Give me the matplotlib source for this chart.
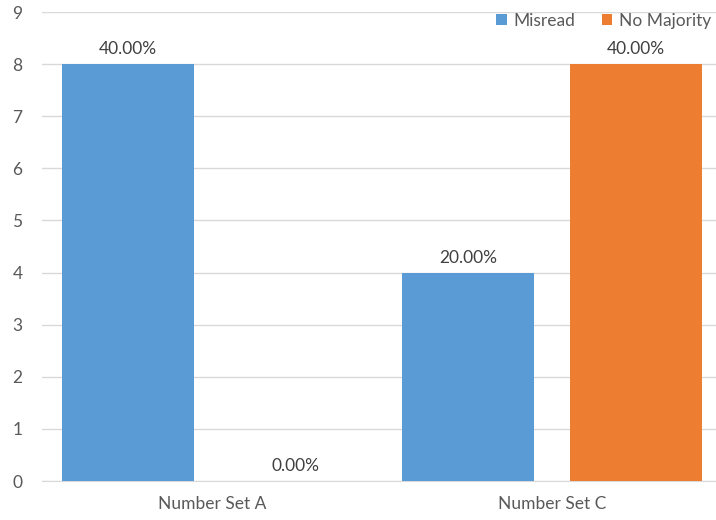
import matplotlib
matplotlib.use("Agg")
import matplotlib.pyplot as plt
import numpy as np

categories = ["Number Set A", "Number Set C"]
series_names = ["Misread", "No Majority"]
misread = [8, 4]
no_majority = [0, 8]
misread_labels = ["40.00%", "20.00%"]
no_majority_labels = ["0.00%", "40.00%"]
y_ticks = list(range(0, 10))

colors = ["#5B9BD5", "#ED7D31"]
text_color = "#595959"
grid_color = "#D9D9D9"

plt.rcParams["font.family"] = ["Lato", "DejaVu Sans"]

fig = plt.figure(figsize=(7.16, 5.2), dpi=100)
ax = fig.add_axes([42 / 716, 39 / 520, 680 / 716, 469 / 520])

x = np.arange(len(categories))
width = 0.39
offset = 0.247

series = [(misread, misread_labels), (no_majority, no_majority_labels)]
for i, (vals, labs) in enumerate(series):
    pos = x + (-offset if i == 0 else offset)
    bars = ax.bar(pos, vals, width=width, color=colors[i], label=series_names[i], zorder=3)
    for b, lab in zip(bars, labs):
        ax.annotate(lab, (b.get_x() + b.get_width() / 2, b.get_height()),
                    xytext=(0, 5), textcoords="offset points",
                    ha="center", va="bottom", fontsize=12.5, color="#404040")

ax.set_xlim(-0.5, 1.5)
ax.set_ylim(0, 9)
ax.set_yticks(y_ticks)
ax.set_xticks(x)
ax.set_xticklabels(categories)
ax.yaxis.grid(True, color=grid_color, linewidth=1, zorder=0)
ax.set_axisbelow(True)
for s in ["top", "right", "left"]:
    ax.spines[s].set_visible(False)
ax.spines["bottom"].set_color(grid_color)
ax.tick_params(axis="both", length=0, colors=text_color, labelsize=12.5)
ax.tick_params(axis="y", pad=14)
ax.tick_params(axis="x", pad=11)

leg = fig.legend(loc="upper right", bbox_to_anchor=(727 / 716, 1.005), ncol=2, frameon=False,
                 fontsize=12.5, handlelength=0.6, handleheight=0.6, handletextpad=0.4,
                 columnspacing=1.5, labelcolor=text_color)

fig.savefig("out.png", dpi=100)
